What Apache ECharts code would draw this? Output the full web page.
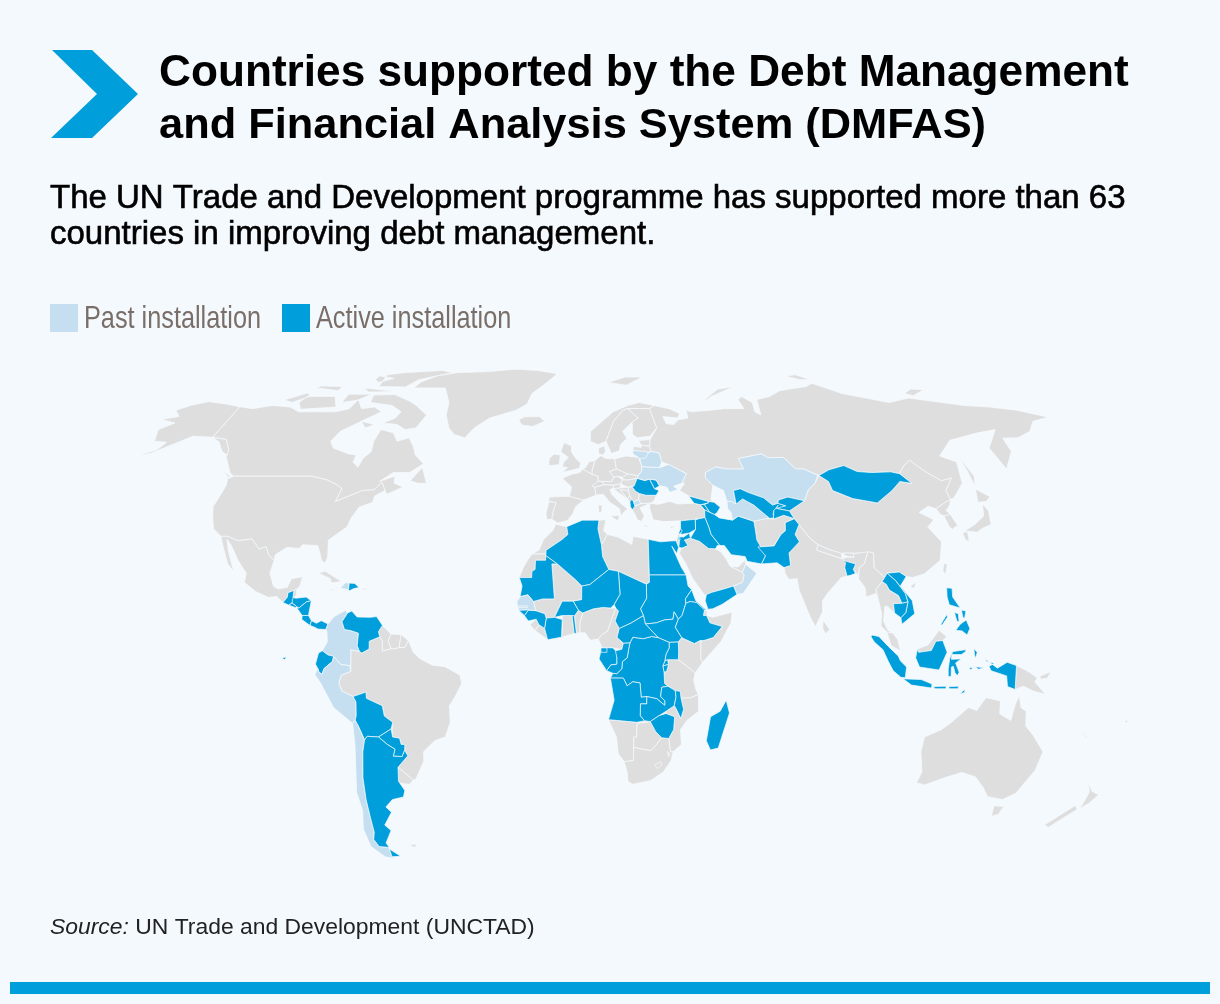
<!DOCTYPE html>
<html>
<head>
<meta charset="utf-8">
<style>html,body{margin:0;padding:0;background:#f4f9fe}#main{width:1220px;height:1004px}</style>
<script src="https://cdn.jsdelivr.net/npm/echarts@6/dist/echarts.min.js"></script>
</head>
<body>
<div id="main"></div>
<script>
// which country got what
var activeCountries = ['Guatemala','Honduras','El Salvador','Nicaragua','Costa Rica','Panama','Dominican Republic','Venezuela','Ecuador','Bolivia','Paraguay','Argentina',
  'Algeria','Mauritania','Guinea','Guinea-Bissau','Ivory Coast','Burkina Faso','Togo','Niger','Chad','Sudan','South Sudan','Eritrea','Ethiopia','Egypt','Central African Republic','Gabon','Equatorial Guinea','Congo','DR Congo','Uganda','Rwanda','Burundi','Angola','Zambia','Malawi','Zimbabwe','Madagascar',
  'Romania','Moldova','Albania','Georgia','Armenia','Azerbaijan','Iran','Iraq','Syria','Lebanon','Jordan','Palestine','Yemen','Pakistan','Uzbekistan','Kyrgyzstan','Tajikistan','Mongolia','Bangladesh','Laos','Vietnam','Cambodia','Philippines','Indonesia'];
var pastCountries = ['Haiti','Colombia','Peru','Chile','Senegal','Gambia','Kazakhstan','Turkmenistan','Ukraine','Belarus','Lithuania','North Macedonia','Oman'];
var legendLabels = ['Past installation', 'Active installation'];

// outlines, lon lat pairs, rough by hand. ; starts another ring
var northAmerica = [
  ['Canada','-141 69.6,-135 69,-128 70,-120 69.5,-115 68,-108 68,-100 68,-95 69,-94 72,-90 69,-85 69.5,-81 68,-87 65,-93 62,-94.5 59,-92 57,-85 55.3,-82 55,-82 52.9,-79.5 51.5,-79 54,-77 56,-78 59,-77.5 62.5,-72 61.5,-69 59,-65 60,-62 57.5,-60 55,-56 52.5,-60 50,-66 50,-70 47.5,-65 49,-64.5 47,-61 46,-66 44,-67 45,-69 47.3,-71 45.2,-75 45,-79 43.5,-83 42,-82.5 45.5,-84.5 46.5,-89 48,-95 49,-123 49,-125 50,-130 54.5,-131 56.5,-135 59.5,-141 60.2;-80 73.7,-72 71.5,-68 70,-62 67,-64 63,-68 62.5,-72 64,-78 64.5,-74 66,-73 68,-78 70,-88 71,-89 73.5;-90 76.5,-78 76.3,-75 79,-62 82,-68 83,-85 82,-92 81;-96 76,-80 74.7,-92 74.5;-117 73,-105 73,-101 69.5,-115 68.8,-118 71;-125 72,-118 74.3,-116 73,-121 71,-125 71.8;-117 76,-106 75,-106 76.5,-116 76.7;-87 65,-81 64,-84 63;-95 80.5,-87 79.5,-92 78,-95 79;-100 73.8,-90 73.8,-94 71.8,-100 71;-59 47.7,-56 51.5,-53 47,-56 47;-128 50.7,-123.5 48.5,-125 48.8'],
  ['USA','-123 49,-95 49,-89 48,-84.5 46.5,-82.5 45.5,-83 42,-79 43.5,-75 45,-71 45.2,-69 47.3,-67 45,-70 43.5,-70 41.7,-74 40.5,-75.5 37.5,-76 35,-81 31.5,-80 27,-80.4 25.2,-81.8 26,-82.8 28,-84 30,-89 30.2,-90 29.2,-94 29.5,-97.3 27.5,-97.2 25.9,-99.5 27.5,-101 29.7,-103 29,-106.5 31.8,-111 31.3,-114.8 32.5,-117.1 32.5,-120.5 34.5,-122.5 37.5,-124.3 40.5,-124 46.3,-124.7 48.3;-141 69.6,-148 70.5,-156.5 71.3,-162 70,-166 68.5,-162 66.5,-168 65.6,-161 64.5,-165 62.5,-162 59,-157 58.7,-158 56.5,-163.8 54.7,-159 55.5,-152 59,-149 60.5,-141 60.2,-137 58.8,-133 56,-130 55,-131 56.5,-135 59.5,-141 60.2'],
  ['Mexico','-117.1 32.5,-114.8 32.5,-111 31.3,-106.5 31.8,-103 29,-101 29.7,-99.5 27.5,-97.2 25.9,-97.8 22.5,-96 19,-94.5 18.2,-91.5 18.6,-90.5 21,-87 21.5,-87.5 19,-88.3 18,-89.2 17.8,-91 17.2,-91 16,-92.2 14.5,-94.5 16.2,-97 15.9,-101.5 17.5,-105.5 20,-105.5 22.5,-109 26,-112.5 30,-114.7 31.7,-114.8 31.9,-113 28.5,-110.5 24.5,-109.6 23,-112 25,-115 29.5'],
  ['Belize','-89.2 17.8,-88.3 18.4,-88.3 16.2,-89.2 15.9'],
  ['Cuba','-85 21.8,-80 23,-74.2 20.2,-77.5 19.9,-78 21,-82 22.5'],
  ['Jamaica','-78.3 18.3,-76.3 18.1,-77 17.8'],
  ['Puerto Rico','-67.2 18.4,-65.7 18.3,-66 18,-67.2 18'],
  ['Greenland','-74 76,-68 76,-60 76,-55 71,-54 67,-51 63,-48 61,-43.5 60,-41 63,-36 66,-26 68.5,-22 70.5,-21 74,-17 77,-12 81.5,-22 83,-33 83.6,-45 82.5,-60 82,-68 80.5,-73 78.2'],
  ['Iceland','-24 65.5,-22 66.4,-16 66.5,-13.6 65,-18 63.4,-22.5 63.9']
];
var centralAmerica = [
  ['Guatemala','-92.2 14.5,-91 16,-91 17.2,-89.2 17.8,-89.2 15.9,-88.2 15.7,-89.3 14.4,-90.2 13.8'],
  ['Honduras','-89.2 15.9,-88.2 15.7,-85 16,-83.2 15,-84.7 14.7,-87 13,-87.7 13.4,-89.3 14.4'],
  ['El Salvador','-90.2 13.8,-89.3 14.4,-87.7 13.4,-88 13.1'],
  ['Nicaragua','-87 13,-84.7 14.7,-83.2 15,-83.7 11,-85.7 11,-87.6 13'],
  ['Costa Rica','-85.7 11,-83.7 11,-82.6 9.6,-83 8.3,-85.7 9.9'],
  ['Panama','-83 8.3,-82.6 9.6,-81 8.9,-79.5 9.6,-77.3 8.7,-77.9 7.2,-80.4 7.3,-81.5 7.8'],
  ['Haiti','-74.4 18.4,-73 19.9,-71.7 19.8,-71.7 18'],
  ['Dominican Republic','-71.7 19.8,-69.9 19.7,-68.4 18.6,-70 18.3,-71.4 17.7,-71.7 18']
];
var southAmerica = [
  ['Colombia','-77.3 8.7,-75.5 10.7,-72 12.4,-71.3 11.7,-72.9 9.3,-72 7.2,-70 6.9,-67.5 6.2,-67.8 2.8,-67 1.2,-69.8 1.7,-69.9 -4.2,-70.2 -2.6,-73 -2.3,-75.2 -0.1,-77 0.3,-78.8 1.4,-77.3 3.8,-77.5 6.5,-77.9 7.2'],
  ['Venezuela','-71.3 11.7,-70 12.2,-68.2 10.6,-64 10.5,-62 10.7,-60.8 9.3,-60 8.3,-61.2 6.6,-60.7 5.2,-64 4,-64 1.9,-66.3 0.8,-67 1.2,-67.8 2.8,-67.5 6.2,-70 6.9,-72 7.2,-72.9 9.3'],
  ['Guyana','-60 8.3,-57.2 6,-58 4,-57 2,-59.8 1.3,-59.9 4,-60.7 5.2,-61.2 6.6'],
  ['Suriname','-57.2 6,-54 5.8,-54.5 2.3,-56 1.9,-57 2,-58 4'],
  ['French Guiana','-54 5.8,-51.6 4.2,-52.7 2.3,-54.5 2.3'],
  ['Brazil','-51.6 4.2,-50 1,-48 -0.7,-44 -2.5,-40 -2.9,-35.3 -5.2,-34.8 -7.5,-37 -11,-39 -13.5,-39 -18,-41 -22,-44.5 -23,-48.5 -26,-48.8 -28.5,-52.5 -33.5,-53.4 -33.7,-57.6 -30.2,-53.8 -27.1,-54.6 -25.6,-54.3 -24,-55.5 -24,-55.8 -22.3,-58 -22,-57.9 -20,-58.2 -19.8,-57.5 -18,-60 -16.3,-60.4 -13.5,-65.3 -11.5,-65.3 -9.8,-69.5 -11,-73 -9.5,-73.8 -7.3,-72.9 -5.2,-69.9 -4.2,-69.8 1.7,-67 1.2,-66.3 0.8,-64 1.9,-64 4,-60.7 5.2,-59.9 4,-59.8 1.3,-57 2,-56 1.9,-54.5 2.3,-52.7 2.3'],
  ['Ecuador','-80.3 -3.4,-81 -2.2,-80 0.8,-78.8 1.4,-77 0.3,-75.2 -0.1,-75.6 -1.5,-78.3 -3.4,-79 -5,-80 -4.3;-91.5 -0.5,-90 -0.3,-90.8 -1'],
  ['Peru','-80.3 -3.4,-80 -4.3,-79 -5,-78.3 -3.4,-75.6 -1.5,-75.2 -0.1,-73 -2.3,-70.2 -2.6,-69.9 -4.2,-72.9 -5.2,-73.8 -7.3,-73 -9.5,-69.5 -11,-68.7 -12.5,-69 -16.2,-69.5 -17.5,-70.4 -18.3,-76 -14,-79.5 -7.5,-81.3 -5'],
  ['Bolivia','-69.5 -11,-65.3 -9.8,-65.3 -11.5,-60.4 -13.5,-60 -16.3,-57.5 -18,-58.2 -19.8,-62.6 -22,-66.2 -21.8,-67.2 -22.8,-68.7 -19,-69.5 -17.5,-69 -16.2,-68.7 -12.5'],
  ['Paraguay','-62.6 -22,-58.2 -19.8,-57.9 -20,-58 -22,-55.8 -22.3,-55.5 -24,-54.3 -24,-54.6 -25.6,-55.7 -27.3,-58.6 -27.2,-57.7 -25.3,-60 -24'],
  ['Chile','-70.4 -18.3,-69.5 -17.5,-68.7 -19,-67.2 -22.8,-68.3 -26,-70 -33,-71 -39,-71.7 -44,-72 -48,-73 -50,-72 -52,-68.6 -52.3,-68.6 -54.9,-67 -55.5,-71 -55,-75 -52,-75.5 -47,-73.5 -42,-73.5 -37,-71.5 -30,-70.5 -24'],
  ['Argentina','-66.2 -21.8,-62.6 -22,-60 -24,-57.7 -25.3,-58.6 -27.2,-55.7 -27.3,-54.6 -25.6,-53.8 -27.1,-57.6 -30.2,-58.4 -34,-57 -36.5,-58 -38.3,-62 -39,-65 -41,-63.7 -42.5,-67.5 -46,-65.8 -47.5,-69 -51,-68.4 -52.3,-72 -52,-73 -50,-72 -48,-71.7 -44,-71 -39,-70 -33,-68.3 -26,-67.2 -22.8;-68.6 -52.7,-65.3 -54.8,-68.6 -54.9'],
  ['Uruguay','-58.4 -34,-57.6 -30.2,-53.4 -33.7,-55 -34.9,-58 -34.5'],
  ['Falkland Islands','-61 -51.5,-58 -51.3,-59 -52.3']
];
var africa = [
  ['Morocco','-5.9 35.8,-2.2 35.1,-1.7 33,-3.6 31.6,-8.7 28.7,-8.7 27.7,-13.2 27.7,-11 28.8,-9.8 31.5,-6.8 34.1'],
  ['Western Sahara','-13.2 27.7,-8.7 27.7,-8.7 26,-12 26,-12 23.5,-13 21.3,-17 21.3,-16 23.7,-14.5 26.2'],
  ['Mauritania','-17 21.3,-13 21.3,-13 23,-12 23.5,-12 26,-8.7 26,-8.7 27.3,-4.8 25,-6.6 25,-5.5 15.5,-9.3 15.5,-12.2 14.8,-14 16.6,-16.5 16.1,-16 19'],
  ['Algeria','-2.2 35.1,3 36.9,8.6 36.9,8.3 34.5,9.5 30.2,9.9 27,11.9 23.5,5.8 19.4,3.2 19,1.2 20.7,-4.8 25,-8.7 27.3,-8.7 28.7,-3.6 31.6,-1.7 33'],
  ['Tunisia','8.6 36.9,11 37,10.2 34,11.5 33,9.5 30.2,8.3 34.5'],
  ['Libya','9.5 30.2,11.5 33,15 32.3,19.5 30.3,20 32.5,25 31.7,25 20,24 19.5,15 23,11.9 23.5,9.9 27'],
  ['Egypt','25 31.7,29 31,32 31.2,34.2 31.3,34.9 29.5,34.2 27.8,32.7 29.8,35.5 24,36.9 22,25 22'],
  ['Sudan','25 22,36.9 22,37.4 19,38.5 18,36.4 15.5,36.5 14.3,35.2 11,34 10,32.7 12,32.3 10,29.6 9.8,27 9,23.5 8.7,22.9 11,22 12.8,24 15.7,24 19.5,25 20'],
  ['South Sudan','34 10,32.7 12,32.3 10,29.6 9.8,27 9,23.5 8.7,27.5 5,31 3.7,33.9 3.8,35 5,33 7.8'],
  ['Eritrea','36.5 14.3,36.4 15.5,38.5 18,39.7 15,43 12.5,42.4 12.5,40 14.5,37.9 14.8'],
  ['Ethiopia','36.5 14.3,37.9 14.8,40 14.5,42.4 12.5,42 11,43 11,44 9,47.9 8,45 5,42 4.2,40.8 4.2,39 3.4,35.9 4.6,35 5,33 7.8,34 10,35.2 11'],
  ['Djibouti','42.4 12.5,43.3 12,43 11,42 11'],
  ['Somalia','43 11,45 10.5,51.2 11.9,50.7 9,47.5 4,41.6 -1.7,41 -0.9,41 3.9,42 4.2,45 5,47.9 8,44 9'],
  ['Kenya','33.9 3.8,35 5,35.9 4.6,39 3.4,40.8 4.2,41 3.9,41 -0.9,41.6 -1.7,39.2 -4.7,37.7 -3.5,33.9 -1,34 1'],
  ['Uganda','33.9 3.8,34 1,33.9 -1,30.5 -1,29.6 -1.4,30 0.5,31 2.2,31 3.7'],
  ['Rwanda','30.5 -1,30.8 -2.3,29 -2.7,29.6 -1.4'],
  ['Burundi','30.8 -2.3,30.2 -4.2,29.4 -4.4,29 -2.7'],
  ['Tanzania','33.9 -1,37.7 -3.5,39.2 -4.7,38.8 -6.5,39.5 -9,40.4 -10.5,38 -11.3,34.9 -11.5,34.6 -9.6,33 -9.4,29.6 -7.5,29.4 -4.4,30.2 -4.2,30.8 -2.3,30.5 -1'],
  ['DR Congo','12.4 -6,13.2 -4.7,14.4 -4.8,16 -3.5,16.2 -1.5,17.7 -0.5,18.2 2,18.6 3.6,19.5 5.1,22.8 4.7,25.5 5.3,27.5 5,31 3.7,31 2.2,30 0.5,29.6 -1.4,29 -2.7,29.4 -4.4,29.6 -7.5,30.7 -8.2,28.7 -8.5,28.4 -11,29.8 -12.2,29.8 -13.4,28 -12.2,27.2 -11.6,24 -11,22.2 -11.2,21.8 -7.3,19.5 -7,17.7 -8.1,16.5 -6'],
  ['Congo','11.2 -4,13.2 -4.7,14.4 -4.8,16 -3.5,16.2 -1.5,17.7 -0.5,18.2 2,18.6 3.6,16.5 3.5,16 1.8,14 1.4,13.2 2.2,14.4 -0.3,14.4 -2.2,12.5 -2.4'],
  ['Gabon','9.3 1,9.8 2.3,13.2 2.2,14 1.4,14.4 -0.3,14.4 -2.2,12.5 -2.4,11.2 -4,8.8 -0.8'],
  ['Equatorial Guinea','9.4 2.2,11.3 2.2,11.3 1,9.4 1'],
  ['Cameroon','8.5 4.6,9.8 2.3,13.2 2.2,16 1.8,16.5 3.5,14.5 5,15.2 7.5,13.9 9.5,15 12.2,14.1 13,13.2 11,11.5 6.8,10 6'],
  ['Central African Republic','14.5 5,16.5 3.5,18.6 3.6,19.5 5.1,22.8 4.7,25.5 5.3,27.5 5,23.5 8.7,22.9 11,19 9,15.2 7.5'],
  ['Chad','15 23,24 19.5,24 15.7,22 12.8,22.9 11,19 9,15.2 7.5,13.9 9.5,15 12.2,14.1 13,13.6 14,15.5 16.8'],
  ['Niger','11.9 23.5,15 23,15.5 16.8,13.6 14,12.5 13,10 13.2,7 12.8,3.6 11.7,2.2 12.4,0.5 14.9,3.2 15.3,3.2 19,5.8 19.4'],
  ['Nigeria','3.6 11.7,7 12.8,10 13.2,12.5 13,14.1 13,13.2 11,11.5 6.8,10 6,8.5 4.6,6 4.3,4.4 6.3,2.7 6.3,2.7 9'],
  ['Benin','2.2 12.4,3.6 11.7,2.7 9,2.7 6.3,1.6 6.2,1 10.9'],
  ['Togo','0.9 11,1.6 6.2,0.9 6.1,0.2 11'],
  ['Ghana','-2.9 11,0.2 11,0.9 6.1,-3.1 5.1,-2.9 7'],
  ['Burkina Faso','-5.4 10.5,-2.9 11,0.2 11,1 10.9,2.2 12.4,0.5 14.9,-3 14.9'],
  ['Mali','-12.2 14.8,-9.3 15.5,-5.5 15.5,-6.6 25,-4.8 25,1.2 20.7,3.2 19,3.2 15.3,0.5 14.9,-3 14.9,-5.4 10.5,-8 10.3,-8.5 11.5,-11.4 12.3'],
  ['Ivory Coast','-8 10.3,-5.4 10.5,-2.9 9.9,-3.1 5.1,-7.5 4.4,-8.5 7.5'],
  ['Liberia','-7.5 4.4,-8.5 7.5,-10.3 8.5,-11.5 6.9'],
  ['Sierra Leone','-11.5 6.9,-10.3 8.5,-11.2 10,-13.2 8.5'],
  ['Guinea','-13.7 9.5,-11.2 10,-10.3 8.5,-8.5 7.5,-8 10.3,-8.5 11.5,-11.4 12.3,-13.7 12.5,-15 11'],
  ['Senegal','-16.5 16.1,-14 16.6,-12.2 14.8,-11.4 12.3,-13.7 12.5,-16.8 12.4,-17.5 14.7'],
  ['Gambia','-16.8 13.6,-14 13.6,-14 13.2,-16.8 13.2'],
  ['Guinea-Bissau','-16.8 12.4,-13.7 12.5,-15 11'],
  ['Angola','12.4 -6,16.5 -6,17.7 -8.1,19.5 -7,21.8 -7.3,22.2 -11.2,24 -11,24 -13,22 -13,22 -16.2,23.4 -17.6,20.9 -18,13.3 -17.4,11.8 -17.3,13.6 -12,13 -9'],
  ['Zambia','22 -13,24 -13,24 -11,27.2 -11.6,28 -12.2,29.8 -13.4,29.8 -12.2,28.4 -11,28.7 -8.5,30.7 -8.2,33 -9.4,33.3 -11,32.8 -13.5,30.2 -15,28 -16.2,25.2 -17.8,23.4 -17.6,22 -16.2'],
  ['Malawi','33 -9.4,34.6 -9.6,34.9 -11.5,35.8 -14.5,35 -17,33.2 -14,32.8 -13.5,33.3 -11'],
  ['Zimbabwe','25.2 -17.8,28 -16.2,30.2 -15.6,33 -16.5,32.8 -20,31.3 -22.4,29 -22.2,27 -20.5'],
  ['Mozambique','34.9 -11.5,38 -11.3,40.4 -10.5,40.6 -15,37 -17.5,35 -20,35.5 -24,32.9 -26,32 -26,31.3 -22.4,32.8 -20,33 -16.5,30.2 -15.6,30.2 -15,32.8 -13.5,33.2 -14,35 -17,35.8 -14.5'],
  ['Namibia','11.8 -17.3,13.3 -17.4,20.9 -18,23.4 -17.6,25.2 -17.8,24.2 -18,21 -18.3,20.9 -22,20 -22,20 -28.4,17 -28.7,15 -26.5,14.4 -22'],
  ['Botswana','21 -18.3,24.2 -18,25.2 -17.8,27 -20.5,29 -22.2,26.8 -24.7,25.5 -25.7,23 -25.3,20 -24.8,20 -22,20.9 -22'],
  ['South Africa','17 -28.7,20 -28.4,20 -24.8,23 -25.3,25.5 -25.7,26.8 -24.7,29 -22.2,31.3 -22.4,32 -26,32.9 -26,32.3 -28.5,30 -31.5,26 -33.8,20 -34.8,18.4 -34.1,18 -31.5'],
  ['Lesotho','27 -29.6,29 -28.7,29.4 -29.5,28 -30.6'],
  ['Eswatini','31 -26,32 -26.5,31.5 -27.3'],
  ['Madagascar','49.3 -12,50.5 -15.5,47.5 -25,45 -25.5,43.5 -23,44.5 -16.5,47.5 -15']
];
var europe = [
  ['Spain','-9 43.2,-1.8 43.4,3.2 42.4,0.5 40.5,-0.3 38.7,-2 36.8,-5.3 36.1,-7.4 37.2,-7 39.7,-6.3 41.7,-8.8 42'],
  ['Portugal','-8.8 41.9,-6.3 41.7,-7 39.7,-7.4 37.2,-9 37,-9.5 38.7'],
  ['France','-1.8 43.4,3.2 42.4,7.5 43.7,7 45.9,8.2 47.6,8.2 49,6 49.5,2.5 51,1.5 50,-1.5 49.5,-4.7 48.4,-1.2 46'],
  ['UK','-5 50,1.3 51.2,1.7 52.7,-0.2 54,-2 56,-2 57.6,-5 58.6,-6 56,-3 54.3,-4.5 53,-5 51.7,-3 51.4'],
  ['Ireland','-10 52,-6.2 52.2,-6 55,-8.5 55.2,-10 54'],
  ['Benelux','2.5 51,3.5 51.4,4.7 53,7 53.4,6 50.8,6 49.5'],
  ['Germany','7 53.4,9 54.8,11 54,14.2 53.9,14.8 51,12.3 50.3,13.8 48.7,13 47.5,8.2 47.6,8.2 49,6 49.5,6 50.8'],
  ['Denmark','8.2 55.5,8.2 57,10.5 57.7,10.8 56,9.8 54.9'],
  ['Switzerland','6 46.3,7 45.9,10.4 46.6,9.6 47.5,8.2 47.6'],
  ['Austria','9.6 47.5,10.4 46.6,13.7 46.5,16.2 46.9,17 48,15 49,13.8 48.7,13 47.5'],
  ['Italy','7 45.9,7.5 43.7,10 44,12.3 41.8,15.7 40,16 38,17 39,18.4 40,16 41.5,13 44,12.4 45.3,13.7 45.7,13.7 46.5,10.4 46.6;12.5 38,15.6 38.2,15 36.7;8.3 41,9.7 41,9.5 39,8.5 39'],
  ['Poland','14.2 53.9,18.5 54.7,23 54.3,24 52,24 50.5,22.6 49.1,19 49.5,14.8 51'],
  ['Czechia','12.3 50.3,14.8 51,18.8 49.6,17 48.7,15 49,13.8 48.7'],
  ['Slovakia','17 48.7,18.8 49.6,22.6 49.1,22.2 48.4,18.8 47.9,17 48'],
  ['Hungary','16.2 46.9,17 48,18.8 47.9,22.2 48.4,21 46.3,18.8 45.9'],
  ['Romania','21 46.3,22.2 48.4,24.9 47.8,26.6 48.2,28.2 45.5,29.7 45,28.6 43.7,25 43.7,22.7 44.2,21.4 44.8,20.3 46'],
  ['Moldova','26.6 48.2,29 47.9,30 46.3,28.2 45.5'],
  ['Ukraine','24 50.5,24 51.7,30.5 51.4,34 52.3,40 49.7,38 47,35 46.2,36.5 45.3,33.5 44.5,32.5 46,30 46.3,29 47.9,26.6 48.2,24.9 47.8,22.2 48.4,22.6 49.1'],
  ['Belarus','24 52,24 51.7,30.5 51.4,31.5 53,30.8 55.6,28 56,26 55.5,23.5 53.9'],
  ['Lithuania','21 56.3,26 56,26.8 55.5,25.7 54.2,23.5 53.9,22.8 54.4,21 55.3'],
  ['Latvia','21 56.3,21.5 57.5,24.3 57.2,24.4 57.9,27.5 57.5,28 56,26 55.7'],
  ['Estonia','23.5 59.2,28 59.5,27.5 57.6,24.4 57.9'],
  ['Norway','5 59,5 62,14 68,20 70,25 71,31 70,29 69,25 69,20 69,18 68.5,14 65,12 61,11 59,8 58;12 78,20 80,28 80,20 77'],
  ['Sweden','11 59,12 61,14 65,18 68.5,20 69,24 66,21.5 64.8,17.5 62,19 59.8,16.5 58,16 56.2,13 55.4,11.3 58.5'],
  ['Finland','20 69,25 69,29 69,31 63,28 60.5,23 60,21.3 61,21.5 64.8,24 66'],
  ['Slovenia','13.7 45.5,13.7 46.5,16.2 46.9,16 45.7'],
  ['Croatia','13.7 45.5,16 45.7,18.8 45.9,19 45,16 45.2,18.5 42.6,14.5 45'],
  ['Bosnia','16 45.2,19 45,19.3 43.6,18.5 42.6'],
  ['Serbia','19 45,18.8 45.9,20.3 46,21.4 44.8,22.7 44.2,22.4 42.5,20.6 41.9,19.3 43.6'],
  ['Montenegro','18.5 42.6,19.3 43.6,20 42.6,19.3 41.9'],
  ['Albania','19.3 41.9,20 42.6,20.6 41.9,21 40.7,20 39.7,19.4 40.6'],
  ['North Macedonia','20.6 41.9,22.4 42.5,23 41.4,21 40.8'],
  ['Bulgaria','22.7 44.2,25 43.7,28.6 43.7,27.6 42,26.2 41.5,23 41.4,22.4 42.5'],
  ['Greece','20 39.7,21 40.7,23 41.4,26.2 41.5,24 40.7,22.7 40.3,24 38,23 36.5,21.6 37,20.9 38.5;23.6 35.6,26.2 35.3,24 35'],
  ['Cyprus','32.5 35,34.5 35.6,33 34.6']
];
var asia = [
  ['Russia','28 59.5,31 63,29 69,31 70,37 69,41 67.5,40 66,34 66.5,35 64.3,38 64,40 65.5,44 66,44 68.5,46 68,54 68.5,60 69,68 69,67 72,69 73,72.5 71,72 68,74 67,75 72,81 73,87 75,100 76.5,104 77.7,113 74,130 71,140 72.5,160 70,170 69.5,180 68.5,190 66.3,182 65,177 62,170 60,164 59.9,163 56,156.7 51,155.7 57,164 62.5,156 61.5,143 59.3,135 54.7,140 53,138 47,132.5 43,131 42.6,131 45,135 48.5,131 47.7,127 50,123 53.5,120 52,117 49.7,114 50.2,107 50,102 50.3,98 52,92 50.8,87.7 49.2,83 51,80 51,76.8 54.3,71 54.2,69 55.3,60 54,61 51,55 51,51 51.6,47 50,46.7 48.5,49 46.5,47.5 42.5,48.5 41.8,46.5 42,44 42.6,40 43.5,37 45,39 47,38 47,40 49.7,34 52.3,31.5 53,30.8 55.6,28 56,27.5 57.5;52 71,56 73,68 76.5,60 75.5,54 72.5;142 54.3,143.5 49,142 46,142 50;140 74,143 73.3,150 75.3,145 75.6;95 80.5,100 79,105 79,100 81'],
  ['Turkey','26.2 41.5,26 40.3,27 37,30.5 36.5,36.2 36.7,42 37.2,44.6 37.6,44.8 39.7,43.6 41.1,41.5 41.5,36 41.3,33 42,29 41.2'],
  ['Georgia','40 43.5,41.5 41.5,43.6 41.1,46.5 41.6,46.5 42,44 42.6'],
  ['Armenia','43.6 41.1,45 41.2,46.5 39,44.8 39.7'],
  ['Azerbaijan','45 41.2,46.5 41.6,46.5 42,48.5 41.8,50.3 40.4,49 39,48 38.4,46.5 39'],
  ['Iran','44.8 39.7,46.5 39,48 38.4,49.5 37.5,53.8 36.9,56 38,61 36.6,61 34.5,61 31.5,63.2 27.2,61.6 25,57 25.7,56.5 27,52 27.5,50 30,48.5 30,46 33,45.5 35,44.6 37.6'],
  ['Iraq','42 37.2,44.6 37.6,45.5 35,46 33,48.5 30,47.7 30,47 29.1,44.7 29.2,42 31.1,39 32,41 34.4,41.2 37'],
  ['Syria','36.2 36.7,42 37.2,41.2 37,41 34.4,38.8 33.4,36 33,36 34.6'],
  ['Lebanon','35.1 33.1,36 34.6,36.5 34,35.7 33.2'],
  ['Jordan','35 29.5,35.5 32.4,36.8 32.3,38.8 33.4,39 32,37 31.5,38 30,36 29.3'],
  ['Israel','34.2 31.3,35.1 33.1,35.7 33.2,35.5 32.4,35 29.5'],
  ['Palestine','35 31.4,35.5 31.4,35.5 32.4,35 32.4'],
  ['Saudi Arabia','36 29.3,38 30,37 31.5,39 32,42 31.1,44.7 29.2,47 29.1,48.5 28.4,50 26.7,51.2 24.5,55.2 22.7,55.7 22,55 20,52 19,48 18,45 17.3,43.2 16.7,42.7 16.4,39 21,37 25,35 28'],
  ['UAE','51.5 24.3,54 24.2,56.3 26,56.4 24.9,55.2 22.7'],
  ['Oman','56.4 24.9,59.8 22.5,58 20.4,55 17,53 16.7,52 19,55 20,55.7 22,55.2 22.7'],
  ['Yemen','43.2 16.7,45 17.3,48 18,52 19,53 16.7,48 14,45 12.8,43.5 12.7,42.7 15'],
  ['Afghanistan','61 36.6,65 37.3,67.8 37.2,71.5 38.2,74.9 37.3,71.5 36.2,71 34,69.3 33,66.4 29.9,61 29.6,61 31.5,61 34.5'],
  ['Pakistan','63.2 27.2,61 29.6,66.4 29.9,69.3 33,71 34,71.5 36.2,74.9 37.3,76 35.7,74 33,75 31,71 28,71 24.6,68.8 24,66.7 25.3,61.6 25'],
  ['Kazakhstan','46.7 48.5,47 50,51 51.6,55 51,61 51,60 54,69 55.3,71 54.2,76.8 54.3,80 51,83 51,87.3 49.2,85.5 47,82.5 45.2,80 42.2,74.5 43.2,71 42.4,70.5 41.5,68.5 41,66 43,61 44.5,58.5 45.5,56 45,56 41.3,54.5 42,53 42,52.5 45,49 46.5'],
  ['Turkmenistan','53 42,52.8 40,53.8 39,53.8 36.9,56 38,61 36.6,65 37.3,66.5 37.4,62 41,60 42,58.6 42.7,56 41.3,54.5 42'],
  ['Uzbekistan','56 45,56 41.3,58.6 42.7,60 42,62 41,66.5 37.4,68 37.5,68 38.5,68.5 39.5,71 40.1,73 40.8,70.5 41.5,68.5 41,66 43,61 44.5,58.5 45.5'],
  ['Kyrgyzstan','69.5 40.1,73.8 39.4,80 42.2,74.5 43.2,71 42.4,70.5 41.5,73 40.8'],
  ['Tajikistan','67.8 37.2,71.5 38.2,74.9 37.3,73.8 39.4,69.5 40.1,70.5 41,68.5 39.5,68 38'],
  ['Mongolia','87.7 49.2,92 50.8,98 52,102 50.3,107 50,114 50.2,117 49.7,120 47,116 47.5,112 45,105 41.6,97 42.8,91 45,90.5 47.5'],
  ['China','73.8 39.4,80 42.2,82.5 45.2,85.5 47,87.7 49.2,90.5 47.5,91 45,97 42.8,105 41.6,112 45,116 47.5,120 47,117 49.7,120 52,123 53.5,127 50,131 47.7,135 48.5,131 45,131 42.6,128 41.5,124.3 40,122 40.7,118 39,122 37,119 35,122 31,120 26,114 22.3,110 21.3,108 21.6,106 22.8,102 22.5,101 21.3,98 24,98.7 28,92 27.9,88.1 27.9,84 29,81 30.2,78.7 32,76 35.7,74.9 37.3;108.8 19,111 20,110 18.3'],
  ['Taiwan','121 25.2,122 25,120.8 22,120.2 23.2'],
  ['North Korea','124.3 40,128 41.5,131 42.6,129.7 41,127.5 39.5,128.4 38.5,126 38,125 38.5'],
  ['South Korea','126 38,128.4 38.5,129.3 35.5,127 34.4,126.3 35'],
  ['Japan','130.9 34,135 35.6,139.5 38,141.2 41.3,142 39.5,140.7 35.7,137 34.6,135 33.6;140 41.8,141.7 45.4,145.3 43.3,143 42;130 33.4,131.8 33.8,131.3 31.3,130.2 31.3'],
  ['India','68.8 24,71 24.6,71 28,75 31,74 33,76 35.7,78.7 32,81 30.2,80.1 28.8,88.1 26.4,89.8 26.8,92 26.8,92 27.8,97 28.3,95 25,93.3 24,92.5 22,91.2 23.5,92.2 25,89.8 25.3,88.5 24,88.9 21.7,87 21.3,82 17,80.2 15,80 12,77.5 8,76 10.5,73 18,72.7 21,70 20.8,69 22.4'],
  ['Nepal','80.1 28.8,81 30.2,84 29,88.1 27.9,88.1 26.4'],
  ['Bhutan','89 27.3,89 28,92 27.9,92 26.8'],
  ['Bangladesh','88.1 26.2,88.9 25.8,92.2 25,91.2 23.5,92.5 21,91.7 22.4,90 21.9,88.9 21.7,88.5 24,89 25.3'],
  ['Sri Lanka','80 9.7,82 7.2,80.6 6,79.8 7.5'],
  ['Myanmar','92.5 21,93 23,93.3 24,95 25,97 28.3,98.7 28,98 24,101 21.3,100 20.2,97.7 18,98.8 11.5,98.3 15,97.5 17,94.3 16,94.3 18.5'],
  ['Thailand','97.7 18,100 20.2,101.2 19.5,102 17.9,104.7 16.4,105.5 14.3,102.8 14.2,102.9 11.7,100.9 13.4,100 13.5,99.2 9.5,100.5 7,102 6.2,100.1 6.5,98.3 8.2,98.8 11.5'],
  ['Laos','100 20.2,101 21.3,102 22.5,104.5 20.4,107 17,107.5 14.7,105.5 14.3,104.7 16.4,102 17.9,101.2 19.5'],
  ['Vietnam','102 22.5,106 22.8,108 21.6,105.7 19,108.9 15,109.3 11.5,105 8.6,104.8 10.4,106.5 11.8,107.5 14.7,107 17,104.5 20.4'],
  ['Cambodia','102.8 14.2,105.5 14.3,107.5 14.7,106.5 11.8,104.8 10.4,102.9 11.7'],
  ['Malaysia','100.1 6.5,102 6.2,103.4 4.5,104.2 1.4,101.3 2.8;109.6 1.9,113 3,116.7 7,119 5.2,117.7 4.2,115.5 4,114 1.5,110 1'],
  ['Indonesia','109.6 1.9,110 1,114 1.5,115.5 4,117.7 4.2,119 1,116.5 -3.8,110.3 -3,109 -0.5;95.3 5.7,97.5 5.3,100.4 2.6,103.5 0,104.2 -1.3,106.2 -3,105.9 -5.9,104.5 -5.8,102 -4,100.4 -1.5,98.7 1.7,96 3.8,95 5.2;105.2 -6.2,108.5 -6.3,111 -6.4,114.5 -7.6,114.4 -8.7,108 -7.9;119.4 -3.5,119.8 -0.7,120.8 1.2,124.8 1.7,125 1.3,123.5 0.4,120.5 0.4,120.3 -0.9,123.4 -0.8,121.7 -1.9,122.9 -4.4,122.4 -5.3,121.6 -4.6,121 -2.8,120.4 -3,120.4 -5.6,119.5 -5.6;131 -0.8,135 -3.3,138 -1.7,141 -2.6,141 -9.1,138.5 -8.3,138 -5.4,133 -4,132.3 -2.8,134 -2,131.5 -1.5;115 -8.3,119 -8.2,119 -8.9,115.5 -8.9;119.9 -8.3,123 -8.2,122.8 -8.9,120 -8.9;123.5 -10.3,125 -9,125 -9.9;128 -2.9,130.8 -3.2,129 -3.6;127.5 2,128.5 1,128 -0.7,127.6 0.5;126 -3.1,127.2 -3.2,126.5 -3.8'],
  ['Philippines','120.5 18.5,122.2 18.4,122 16,124 13,120.6 13.9,120.2 16;122 7,123.5 8.6,125.5 9.8,126.5 7.5,125.5 5.7,124 6.8;117.2 8.4,119.5 11.3,119.6 10.5,117.8 8.5;124.3 12.5,125.7 12.2,125 10.2,124.5 10.5;122 11.8,123.2 11.5,123.2 9.2,122.5 9.5']
];
var oceania = [
  ['Papua New Guinea','141 -2.6,145 -4.3,147.8 -6,147 -7,150.8 -10.4,147 -9.6,143.5 -8.2,141 -9.1;148.5 -5.5,152 -4.2,151 -6,149 -6.3'],
  ['Australia','114 -22,113.7 -26,115.7 -31.5,115 -34.4,118 -35,124 -33,129 -31.6,134 -32.8,138 -35.7,141 -38.2,146.5 -39,150 -37.3,153 -31,153.5 -26,149 -21.5,146 -19,145.3 -15,143.5 -14,142.5 -10.7,141.6 -13,140.9 -17.5,137 -15.7,136.7 -12.2,132 -11.3,129.5 -14.8,126.7 -14,122 -18,119 -20,114.5 -21.8;144.7 -40.7,148.3 -40.9,148 -43,146 -43.6'],
  ['New Zealand','172.7 -34.5,175.5 -36.8,178.4 -37.7,176.8 -40,175 -41.5,174.8 -39,174.7 -37;172.7 -40.6,174.3 -41.7,171 -44.5,168.5 -46.6,166.5 -46,170 -43'],
  ['New Caledonia','164 -20,167 -22.4,166 -22'],
  ['Solomon Islands','157 -7,161 -10,160 -9.2'],
  ['Fiji','177.5 -17.5,178.7 -17.5,178 -18.2']
];

// Robinson style tables, stretched a bit up north to sit on the reference
var xTable = [1,0.9986,0.9954,0.99,0.9822,0.973,0.96,0.9427,0.9216,0.8962,0.875,0.85,0.82,0.79,0.76,0.725,0.68,0.64,0.6];
var yTable = [0,0.062,0.124,0.186,0.248,0.31,0.372,0.434,0.4958,0.5571,0.6176,0.6769,0.7346,0.7903,0.8435,0.8936,0.9394,0.9761,1];

function lookup(table, lat) {
  var t = Math.min(Math.abs(lat), 89.99) / 5, i = Math.floor(t);
  return table[i] + (table[i + 1] - table[i]) * (t - i);
}
var mapProjection = {
  project: function (p) {
    return [606 + 3.16 * lookup(xTable, p[1]) * (p[0] - 11), 656 - 297 * lookup(yTable, p[1]) * (p[1] < 0 ? -1 : 1)];
  },
  unproject: function (p) {
    var v = Math.abs(656 - p[1]) / 297, i = 0;
    while (i < 17 && yTable[i + 1] < v) i++;
    var lat = (i + (v - yTable[i]) / (yTable[i + 1] - yTable[i])) * 5 * (p[1] > 656 ? -1 : 1);
    return [(p[0] - 606) / (3.16 * lookup(xTable, lat)) + 11, lat];
  }
};

var allShapes = northAmerica.concat(centralAmerica, southAmerica, africa, europe, asia, oceania);
var isGrey = function (s) { return activeCountries.indexOf(s[0]) < 0 && pastCountries.indexOf(s[0]) < 0; };
// grey first so the coloured ones sit on top
allShapes = allShapes.filter(isGrey).concat(allShapes.filter(function (s) { return !isGrey(s); }));

var x0 = 1e9, x1 = -1e9, y0 = 1e9, y1 = -1e9;
var features = allShapes.map(function (s) {
  var rings = s[1].split(';').map(function (r) {
    var ring = r.split(',').map(function (c) { return c.trim().split(' ').map(Number); });
    ring.forEach(function (c) {
      var p = mapProjection.project(c);
      x0 = Math.min(x0, p[0]); x1 = Math.max(x1, p[0]);
      y0 = Math.min(y0, p[1]); y1 = Math.max(y1, p[1]);
    });
    ring.push(ring[0]);
    return [ring];
  });
  return { type: 'Feature', properties: { name: s[0] }, geometry: { type: 'MultiPolygon', coordinates: rings } };
});
echarts.registerMap('dmfas', { type: 'FeatureCollection', features: features });

var mapData = pastCountries.map(function (n) { return { name: n, value: 1 }; })
  .concat(activeCountries.map(function (n) { return { name: n, value: 2 }; }));

var pastColor = '#c5dff0', activeColor = '#009edb';
var myChart = echarts.init(document.getElementById('main'));
var titleFont = '"Liberation Sans", Arial, sans-serif';
var legendFont = '32px "Liberation Sans", Arial, sans-serif';
myChart.setOption({
  backgroundColor: '#f4f9fe',
  animation: false,
  title: [
    { text: 'Countries supported by the Debt Management', left: 159, top: 48, padding: 0,
      textStyle: { fontFamily: titleFont, fontSize: 44.2, fontWeight: 'bold', color: '#000', lineHeight: 52 } },
    { text: 'and Financial Analysis System (DMFAS)', left: 159, top: 100, padding: 0,
      textStyle: { fontFamily: titleFont, fontSize: 43.4, fontWeight: 'bold', color: '#000', lineHeight: 52 } },
    { text: 'The UN Trade and Development programme has supported more than 63\ncountries in improving debt management.', left: 50, top: 181, padding: 0,
      textStyle: { fontFamily: titleFont, fontSize: 33, fontWeight: 'normal', color: '#000', lineHeight: 36, textBorderColor: '#000', textBorderWidth: 0.6 } },
    { text: '{i|Source:} UN Trade and Development (UNCTAD)', left: 50, top: 916, padding: 0,
      textStyle: { fontFamily: titleFont, fontSize: 22.9, fontWeight: 'normal', color: '#222', rich: { i: { fontFamily: titleFont, fontSize: 22.9, fontStyle: 'italic', color: '#222' } } } }
  ],
  visualMap: {
    show: false, type: 'piecewise', seriesIndex: 0,
    pieces: [ { value: 1, color: pastColor }, { value: 2, color: activeColor } ]
  },
  series: [{
    type: 'map', map: 'dmfas', projection: mapProjection, silent: true, roam: false,
    left: x0, top: y0, width: x1 - x0, height: y1 - y0,
    itemStyle: { areaColor: '#dedede', borderColor: '#f7fbfe', borderWidth: 0.7 },
    label: { show: false },
    emphasis: { disabled: true },
    select: { disabled: true },
    data: mapData
  }],
  graphic: [
    { type: 'polygon', shape: { points: [[52,50],[92,50],[138,94],[92,138],[51,138],[97,94]] }, style: { fill: activeColor } },
    { type: 'rect', shape: { x: 50, y: 304, width: 28, height: 28 }, style: { fill: pastColor } },
    { type: 'text', x: 84, y: 319, scaleX: 0.79, style: { text: legendLabels[0], font: legendFont, fill: '#7a6f68', verticalAlign: 'middle' } },
    { type: 'rect', shape: { x: 282, y: 304, width: 28, height: 28 }, style: { fill: activeColor } },
    { type: 'text', x: 316, y: 319, scaleX: 0.79, style: { text: legendLabels[1], font: legendFont, fill: '#7a6f68', verticalAlign: 'middle' } },
    { type: 'rect', shape: { x: 10, y: 982, width: 1200, height: 12 }, style: { fill: activeColor } }
  ]
});
</script>
</body>
</html>
